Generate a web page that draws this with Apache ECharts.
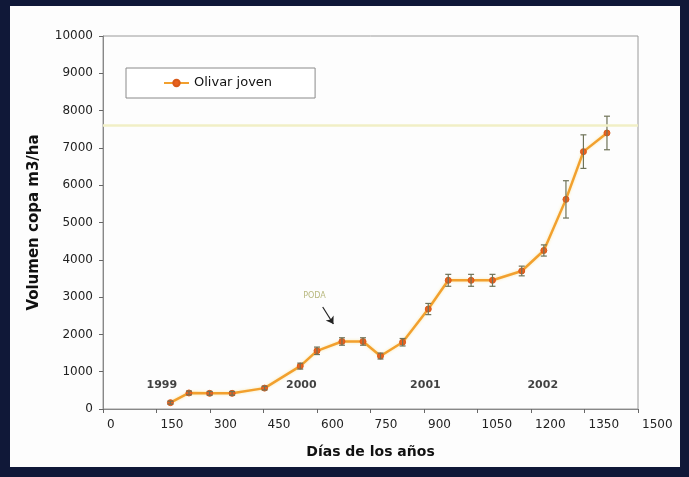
<!DOCTYPE html>
<html>
<head>
<meta charset="utf-8">
<script src="https://cdn.jsdelivr.net/npm/echarts@6/dist/echarts.min.js"></script>
<style>
  html, body { margin: 0; padding: 0; background: #101838; }
  #chart { width: 689px; height: 477px; }
</style>
</head>
<body>
<div id="chart"></div>
<script>
// Crown volume of the young olive grove over the days of the years
const days   = [189, 241, 299, 362, 453, 553, 600, 670, 729, 778, 840, 912, 968, 1032, 1092, 1174, 1236, 1298, 1347, 1413];
const volume = [170, 430, 420, 420, 560, 1150, 1560, 1810, 1810, 1420, 1790, 2680, 3450, 3450, 3450, 3700, 4250, 5620, 6900, 7400];
const errors = [40, 50, 50, 50, 50, 80, 100, 100, 100, 80, 100, 150, 160, 160, 160, 130, 150, 500, 450, 450];

// Year annotations along the curve
const yearNames = ['1999', '2000', '2001', '2002'];
const yearDays  = [165, 556, 904, 1233];
const yearLevel = 643;

// Pruning note with its arrow
const podaText  = 'PODA';
const podaAt    = [593, 3040];
const podaArrow = [[616, 2735], [646, 2280]];

// Reference level drawn across the plot
const refLevel = 7620;

const seriesName = 'Olivar joven';
const xTitle = 'Días de los años';
const yTitle = 'Volumen copa m3/ha';

const chart = echarts.init(document.getElementById('chart'));

const errData = days.map((d, i) => [d, volume[i] - errors[i], volume[i] + errors[i]]);
const yearData = yearNames.map((n, i) => ({ value: [yearDays[i], yearLevel], label: { formatter: n } }));
const plain = v => String(v);

chart.setOption({
  animation: false,
  backgroundColor: '#101838',
  textStyle: { fontFamily: 'DejaVu Sans' },
  graphic: [{
    type: 'rect', z: -10, silent: true,
    shape: { x: 10, y: 6, width: 670, height: 461 },
    style: { fill: '#fdfdfd' }
  }],
  grid: {
    left: 103, right: 51, top: 36, bottom: 68,
    show: true, borderColor: '#9a9a9a', borderWidth: 1, backgroundColor: 'transparent'
  },
  legend: {
    data: [seriesName],
    left: 126, top: 68,
    orient: 'horizontal',
    padding: [8, 43, 8, 37],
    itemWidth: 25, itemHeight: 8, itemGap: 4,
    borderColor: '#8a8a8a', borderWidth: 1,
    backgroundColor: '#ffffff',
    textStyle: { fontFamily: 'DejaVu Sans', fontSize: 13, color: '#111', lineHeight: 14 }
  },
  xAxis: {
    type: 'value', min: 0, max: 1500, interval: 150,
    name: xTitle, nameLocation: 'middle', nameGap: 36,
    nameTextStyle: { fontFamily: 'DejaVu Sans', fontWeight: 'bold', fontSize: 14, color: '#111' },
    axisLine: { show: true, lineStyle: { color: '#888', width: 1 } },
    axisTick: { show: true, length: 4, lineStyle: { color: '#666' } },
    axisLabel: { formatter: plain, align: 'left', padding: [0, 0, 0, 4], margin: 10, fontSize: 12, color: '#222', fontFamily: 'DejaVu Sans' },
    splitLine: { show: false }
  },
  yAxis: {
    type: 'value', min: 0, max: 10000, interval: 1000,
    name: yTitle, nameLocation: 'middle', nameGap: 61,
    nameTextStyle: { fontFamily: 'DejaVu Sans', fontWeight: 'bold', fontSize: 15, color: '#111' },
    axisLine: { show: true, lineStyle: { color: '#888', width: 1 } },
    axisTick: { show: true, length: 4, lineStyle: { color: '#666' } },
    axisLabel: { formatter: plain, margin: 10, fontSize: 12, color: '#222', fontFamily: 'DejaVu Sans' },
    splitLine: { show: false }
  },
  series: [
    {
      name: 'ref', type: 'line', data: [], silent: true,
      markLine: {
        silent: true, symbol: ['none', 'none'], label: { show: false },
        lineStyle: { color: '#f1efc6', width: 2.5, type: 'solid' },
        data: [{ yAxis: refLevel }]
      }
    },
    {
      name: seriesName, type: 'line',
      data: days.map((d, i) => [d, volume[i]]),
      symbol: 'circle', symbolSize: 6,
      lineStyle: { color: '#f2a02e', width: 2.5, shadowColor: 'rgba(250,220,120,0.6)', shadowBlur: 3 },
      itemStyle: { color: '#e9621f', borderColor: '#d85a1a', borderWidth: 1 },
      z: 3
    },
    {
      name: 'err', type: 'custom', data: errData, z: 4, silent: true,
      renderItem: function (params, api) {
        const x = api.value(0);
        const lo = api.coord([x, api.value(1)]);
        const hi = api.coord([x, api.value(2)]);
        const c = 3;
        const st = { stroke: '#6f7358', lineWidth: 1.2 };
        return {
          type: 'group',
          children: [
            { type: 'line', shape: { x1: lo[0], y1: lo[1], x2: hi[0], y2: hi[1] }, style: st },
            { type: 'line', shape: { x1: lo[0] - c, y1: lo[1], x2: lo[0] + c, y2: lo[1] }, style: st },
            { type: 'line', shape: { x1: hi[0] - c, y1: hi[1], x2: hi[0] + c, y2: hi[1] }, style: st }
          ]
        };
      }
    },
    {
      name: 'years', type: 'scatter', data: yearData, symbolSize: 0, silent: true,
      label: { show: true, position: 'inside', fontFamily: 'DejaVu Sans', fontWeight: 'bold', fontSize: 11, color: '#111' }
    },
    {
      name: 'poda', type: 'scatter', data: [{ value: podaAt }], symbolSize: 0, silent: true,
      label: { show: true, position: 'inside', formatter: podaText, fontFamily: 'DejaVu Sans', fontSize: 8, color: '#a8a860' },
      markLine: {
        silent: true, symbol: ['none', 'arrow'], symbolSize: 7, label: { show: false },
        lineStyle: { color: '#222', width: 1.2, type: 'solid' },
        data: [[{ coord: podaArrow[0] }, { coord: podaArrow[1] }]]
      }
    }
  ]
});
</script>
</body>
</html>
